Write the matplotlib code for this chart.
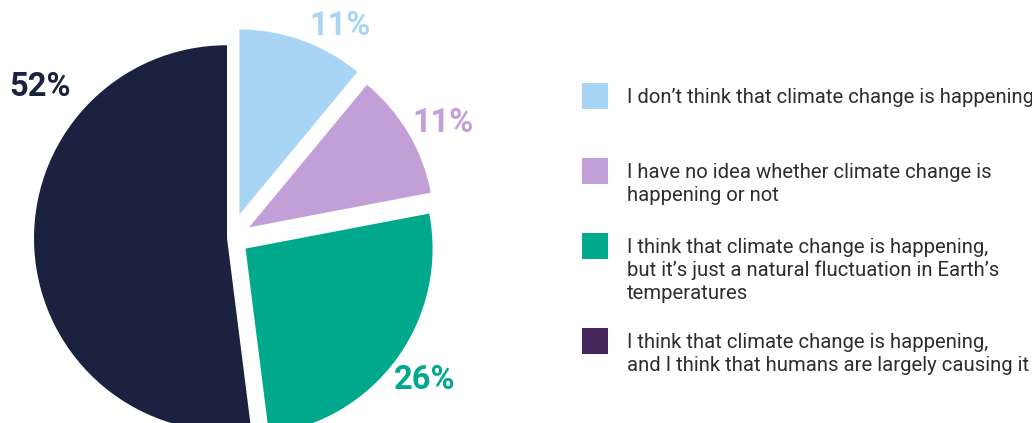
import numpy as np
import matplotlib.pyplot as plt
from matplotlib.patches import Rectangle

# survey answers, clockwise from 12 o'clock
shares = [11, 11, 26, 52]
pct_labels = ["11%", "11%", "26%", "52%"]
slice_colors = ["#a9d5f4", "#c29fd6", "#00a98b", "#1a2240"]
legend_colors = ["#a9d5f4", "#c29fd6", "#00a98b", "#46265b"]
answers = [
    "I don\u2019t think that climate change is happening",
    "I have no idea whether climate change is\nhappening or not",
    "I think that climate change is happening,\nbut it\u2019s just a natural fluctuation in Earth\u2019s\ntemperatures",
    "I think that climate change is happening,\nand I think that humans are largely causing it",
]

W, H = 1032, 423
fig = plt.figure(figsize=(W / 100, H / 100), dpi=100)
ax = fig.add_axes([0, 0, 1, 1])

# layout in pixels
cx, cy = 231, H - 238
explode = [25, 21, 18, 4]
radii = [185, 185, 187, 193]
label_pos = [(62.8, 238), (28.5, 241), (-36.2, 240), (141.7, 243)]  # (angle, dist)

wedges, _ = ax.pie(shares, colors=slice_colors, startangle=90, counterclock=False,
                   center=(cx, cy), radius=185, explode=explode,
                   wedgeprops=dict(linewidth=0))
for w, rr in zip(wedges, radii):
    w.set_radius(rr)
ax.set_xlim(0, W)
ax.set_ylim(0, H)
ax.set_aspect("equal")
ax.axis("off")

for i, lab in enumerate(pct_labels):
    a, d = label_pos[i]
    a = np.deg2rad(a)
    ax.text(cx + d * np.cos(a), cy + d * np.sin(a), lab,
            color=slice_colors[i], fontsize=23.5, fontweight="bold",
            family="Roboto", ha="center", va="center")

# legend drawn by hand so the swatch lines up with the first text line
tops = [83, 158, 233, 328]
for col, txt, top in zip(legend_colors, answers, tops):
    ax.add_patch(Rectangle((582, H - top - 26), 26, 26, color=col, lw=0))
    for k, line in enumerate(txt.split("\n")):
        ax.text(627, H - top - 20 - 23 * k, line, fontsize=14.6,
                family="Roboto", color="#2e2e2e", ha="left", va="baseline")

fig.savefig("out.png", dpi=100)
